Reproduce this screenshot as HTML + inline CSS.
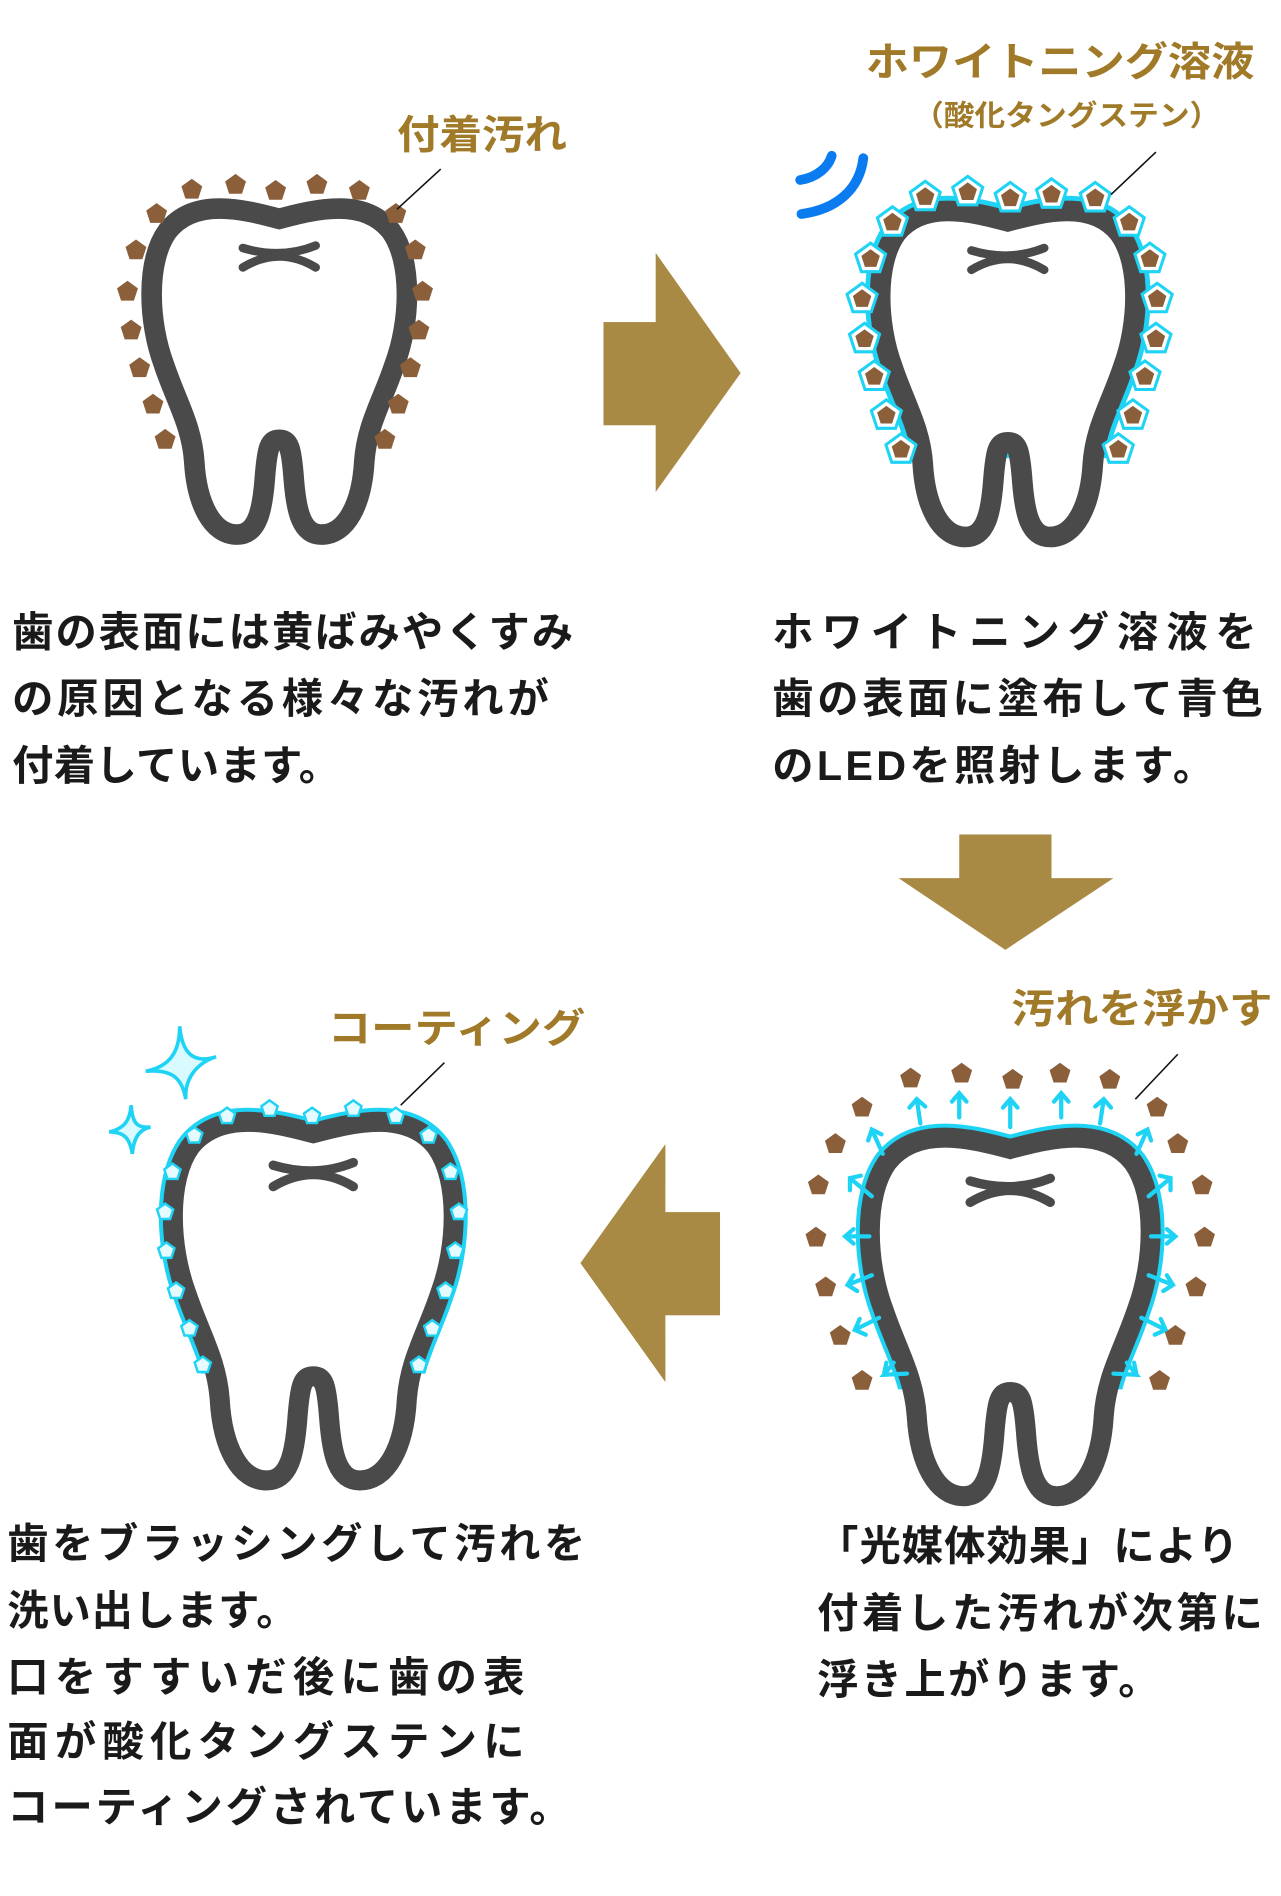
<!DOCTYPE html>
<html><head><meta charset="utf-8"><style>
html,body{margin:0;padding:0;background:#fff}
svg{display:block}
text{font-family:"Liberation Sans","Noto Sans CJK JP",sans-serif;font-weight:bold}
.b{fill:#1a1a1a;font-size:34px}
.g{fill:#a07a28;font-size:33px}
</style></head><body>
<svg width="1281" height="1896" viewBox="0 0 1055 1561" xmlns="http://www.w3.org/2000/svg">
<defs>
<path id="tooth" d="M0,10 C-30,2 -70,-8 -92,20 C-110,45 -108,95 -95,130 C-85,160 -72,180 -70,210 C-68,245 -55,270 -35,270 C-18,270 -14,250 -12,225 C-10,198 -8,192 0,192 C8,192 10,198 12,225 C14,250 18,270 35,270 C55,270 68,245 70,210 C72,180 85,160 95,130 C108,95 110,45 92,20 C70,-8 30,2 0,10 Z"/>
<clipPath id="c2"><rect x="-150" y="-60" width="300" height="265"/></clipPath>
<clipPath id="c3"><rect x="-150" y="-60" width="300" height="250"/></clipPath>
<g id="mark"><path d="M-30,34 C-10,40 10,40 30,32 M-30,50 C-10,38 10,38 30,50" fill="none" stroke="#4a4a4a" stroke-width="7" stroke-linecap="round"/></g>
<polygon id="pb" points="0,-9 8.6,-2.8 5.3,7.3 -5.3,7.3 -8.6,-2.8" fill="#8a5f3a"/>
<g id="pc"><polygon points="0,-13 12.4,-4 7.6,10.5 -7.6,10.5 -12.4,-4" fill="#fff" stroke="#1fd3f5" stroke-width="2.5"/><polygon points="0,-8 7.6,-2.5 4.7,6.5 -4.7,6.5 -7.6,-2.5" fill="#8a5f3a"/></g>
<polygon id="pw" points="0,-7 6.7,-2.2 4.1,5.7 -4.1,5.7 -6.7,-2.2" fill="#e6fbff" stroke="#1fd3f5" stroke-width="2"/>
</defs>

<!-- Tooth 1 -->
<g transform="translate(230,170)">
<use href="#tooth" fill="#fff" stroke="#4a4a4a" stroke-width="17"/>
<use href="#mark"/>
</g>
<g>
<use href="#pb" x="158" y="156"/><use href="#pb" x="194" y="152"/><use href="#pb" x="227" y="157"/><use href="#pb" x="261" y="152"/><use href="#pb" x="296" y="157"/>
<use href="#pb" x="326" y="176"/><use href="#pb" x="342" y="206"/><use href="#pb" x="348" y="240"/><use href="#pb" x="345" y="272"/><use href="#pb" x="338" y="303"/><use href="#pb" x="328" y="333"/><use href="#pb" x="317" y="362"/>
<use href="#pb" x="129" y="176"/><use href="#pb" x="112" y="206"/><use href="#pb" x="105" y="240"/><use href="#pb" x="108" y="272"/><use href="#pb" x="115" y="303"/><use href="#pb" x="126" y="333"/><use href="#pb" x="136" y="362"/>
</g>
<text class="g" x="327" y="122" textLength="140" lengthAdjust="spacingAndGlyphs">付着汚れ</text>
<line x1="363" y1="139" x2="327" y2="172" stroke="#111" stroke-width="1.3"/>

<!-- Right arrow -->
<rect x="497" y="265" width="45" height="85" fill="#a98a45"/>
<polygon points="540,208 610,307 540,405" fill="#a98a45"/>

<!-- Tooth 2 -->
<g transform="translate(830,172)">
<use href="#tooth" fill="#fff" stroke="#1fd3f5" stroke-width="25" clip-path="url(#c2)"/>
<use href="#tooth" fill="#fff" stroke="#4a4a4a" stroke-width="17"/>
<use href="#mark"/>
</g>
<g>
<use href="#pc" x="762" y="162"/><use href="#pc" x="797" y="158"/><use href="#pc" x="832" y="163"/><use href="#pc" x="866" y="160"/><use href="#pc" x="902" y="163"/>
<use href="#pc" x="930" y="183"/><use href="#pc" x="947" y="213"/><use href="#pc" x="953" y="246"/><use href="#pc" x="952" y="279"/><use href="#pc" x="943" y="310"/><use href="#pc" x="933" y="342"/><use href="#pc" x="921" y="370"/>
<use href="#pc" x="735" y="183"/><use href="#pc" x="717" y="213"/><use href="#pc" x="710" y="246"/><use href="#pc" x="712" y="279"/><use href="#pc" x="720" y="310"/><use href="#pc" x="730" y="342"/><use href="#pc" x="742" y="370"/>
</g>
<path d="M659,148 C672,146 682,138 685,128" fill="none" stroke="#0a7cf0" stroke-width="8" stroke-linecap="round"/>
<path d="M660,176 C690,172 708,155 711,130" fill="none" stroke="#0a7cf0" stroke-width="8" stroke-linecap="round"/>
<text class="g" x="713" y="62" textLength="320" lengthAdjust="spacingAndGlyphs">ホワイトニング溶液</text>
<text class="g" x="752" y="103" style="font-size:24px" textLength="253" lengthAdjust="spacingAndGlyphs">（酸化タングステン）</text>
<line x1="952" y1="125" x2="915" y2="160" stroke="#111" stroke-width="1.3"/>

<!-- Down arrow -->
<rect x="790" y="687" width="76" height="38" fill="#a98a45"/>
<polygon points="740,723 917,723 828,782" fill="#a98a45"/>

<!-- Left arrow -->
<polygon points="478,1040 548,942 548,1138" fill="#a98a45"/>
<rect x="546" y="998" width="47" height="85" fill="#a98a45"/>

<!-- Tooth 3 -->
<g transform="translate(258,922) scale(1.1)">
<use href="#tooth" fill="#fff" stroke="#1fd3f5" stroke-width="21" clip-path="url(#c3)"/>
<use href="#tooth" fill="#fff" stroke="#4a4a4a" stroke-width="15"/>
<use href="#mark"/>
</g>
<g>
<use href="#pw" x="187" y="919"/><use href="#pw" x="222" y="913"/><use href="#pw" x="257" y="919"/><use href="#pw" x="291" y="913"/><use href="#pw" x="326" y="919"/>
<use href="#pw" x="353" y="935"/><use href="#pw" x="371" y="965"/><use href="#pw" x="378" y="998"/><use href="#pw" x="375" y="1030"/><use href="#pw" x="367" y="1063"/><use href="#pw" x="356" y="1094"/><use href="#pw" x="345" y="1124"/>
<use href="#pw" x="160" y="935"/><use href="#pw" x="142" y="965"/><use href="#pw" x="136" y="998"/><use href="#pw" x="137" y="1030"/><use href="#pw" x="145" y="1063"/><use href="#pw" x="156" y="1094"/><use href="#pw" x="167" y="1124"/>
</g>
<path d="M148,845 C150,868 160,876 178,870 C160,876 152,890 153,905 C150,888 142,880 120,882 C140,878 148,866 148,845 Z" fill="#d9fbff" stroke="#1fd3f5" stroke-width="3"/>
<path d="M108,910 C109,925 113,929 124,928 C114,930 110,938 109,950 C107,938 103,932 90,932 C103,929 107,922 108,910 Z" fill="#d9fbff" stroke="#1fd3f5" stroke-width="3"/>
<text class="g" x="270" y="858" textLength="212" lengthAdjust="spacingAndGlyphs">コーティング</text>
<line x1="366" y1="875" x2="330" y2="910" stroke="#111" stroke-width="1.3"/>

<!-- Tooth 4 -->
<g transform="translate(832,935) scale(1.1)">
<use href="#tooth" fill="#fff" stroke="#1fd3f5" stroke-width="21" clip-path="url(#c3)"/>
<use href="#tooth" fill="#fff" stroke="#4a4a4a" stroke-width="15"/>
<use href="#mark"/>
</g>
<g stroke="#1fd3f5" stroke-width="3.5" fill="none" stroke-linecap="round">
<path d="M758,925 L755,905 M749,912 L755,905 L762,911"/>
<path d="M790,920 L790,900 M784,907 L790,900 L796,907"/>
<path d="M832,928 L832,905 M826,912 L832,905 L838,912"/>
<path d="M874,920 L874,900 M868,907 L874,900 L880,907"/>
<path d="M906,925 L909,905 M902,911 L909,905 L915,912"/>
<path d="M727,950 L718,930 M715,939 L718,930 L726,934"/>
<path d="M936,950 L945,930 M937,934 L945,930 L948,939"/>
<path d="M718,985 L700,970 M700,980 L700,970 L709,968"/>
<path d="M946,985 L964,970 M955,968 L964,970 L964,980"/>
<path d="M716,1018 L696,1018 M703,1012 L696,1018 L703,1024"/>
<path d="M948,1018 L968,1018 M961,1012 L968,1018 L961,1024"/>
<path d="M718,1050 L698,1058 M703,1050 L698,1058 L706,1063"/>
<path d="M946,1050 L966,1058 M961,1050 L966,1058 L958,1063"/>
<path d="M724,1085 L704,1095 M708,1086 L704,1095 L713,1099"/>
<path d="M940,1085 L960,1095 M956,1086 L960,1095 L951,1099"/>
<path d="M736,1122 L728,1132 L747,1131 M728,1132 L730,1122"/>
<path d="M928,1122 L936,1132 L917,1131 M936,1132 L934,1122"/>
</g>
<g>
<use href="#pb" x="750" y="888"/><use href="#pb" x="792" y="884"/><use href="#pb" x="834" y="889"/><use href="#pb" x="873" y="884"/><use href="#pb" x="914" y="889"/>
<use href="#pb" x="953" y="912"/><use href="#pb" x="970" y="942"/><use href="#pb" x="990" y="976"/><use href="#pb" x="992" y="1019"/><use href="#pb" x="985" y="1060"/><use href="#pb" x="968" y="1100"/><use href="#pb" x="955" y="1137"/>
<use href="#pb" x="710" y="912"/><use href="#pb" x="688" y="942"/><use href="#pb" x="674" y="976"/><use href="#pb" x="672" y="1019"/><use href="#pb" x="680" y="1060"/><use href="#pb" x="692" y="1100"/><use href="#pb" x="710" y="1137"/>
</g>
<text class="g" x="833" y="842" textLength="215" lengthAdjust="spacingAndGlyphs">汚れを浮かす</text>
<line x1="970" y1="868" x2="935" y2="905" stroke="#111" stroke-width="1.3"/>

<!-- Body text -->
<text class="b" x="10" y="532" textLength="462" lengthAdjust="spacing">歯の表面には黄ばみやくすみ</text>
<text class="b" x="10" y="587" textLength="442" lengthAdjust="spacing">の原因となる様々な汚れが</text>
<text class="b" x="10" y="642" textLength="270" lengthAdjust="spacing">付着しています。</text>

<text class="b" x="636" y="532" textLength="399" lengthAdjust="spacing">ホワイトニング溶液を</text>
<text class="b" x="636" y="587" textLength="404" lengthAdjust="spacing">歯の表面に塗布して青色</text>
<text class="b" x="636" y="642" textLength="364" lengthAdjust="spacing">のLEDを照射します。</text>

<text class="b" x="6" y="1283" textLength="476" lengthAdjust="spacing">歯をブラッシングして汚れを</text>
<text class="b" x="6" y="1338" textLength="239" lengthAdjust="spacing">洗い出します。</text>
<text class="b" x="6" y="1393" textLength="426" lengthAdjust="spacing">口をすすいだ後に歯の表</text>
<text class="b" x="6" y="1446" textLength="426" lengthAdjust="spacing">面が酸化タングステンに</text>
<text class="b" x="6" y="1500" textLength="464" lengthAdjust="spacing">コーティングされています。</text>

<text class="b" x="673" y="1285" textLength="347" lengthAdjust="spacing">「光媒体効果」により</text>
<text class="b" x="673" y="1340" textLength="367" lengthAdjust="spacing">付着した汚れが次第に</text>
<text class="b" x="673" y="1395" textLength="282" lengthAdjust="spacing">浮き上がります。</text>
</svg>
</body></html>
